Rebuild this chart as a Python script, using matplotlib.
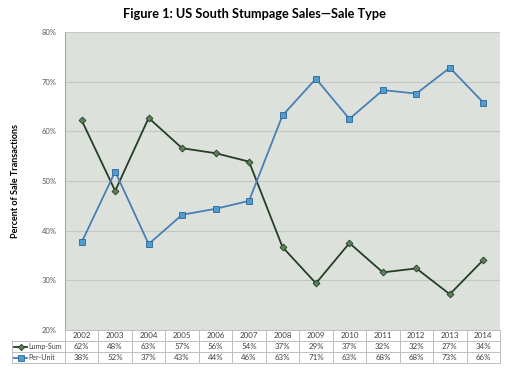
import matplotlib
matplotlib.use("Agg")
import matplotlib.pyplot as plt
from matplotlib.lines import Line2D
from matplotlib.transforms import blended_transform_factory

years = [2002, 2003, 2004, 2005, 2006, 2007, 2008, 2009, 2010, 2011, 2012, 2013, 2014]
lump_sum = [62.2, 48.0, 62.7, 56.6, 55.6, 53.9, 36.7, 29.4, 37.5, 31.6, 32.4, 27.2, 34.1]
per_unit = [37.7, 51.9, 37.3, 43.2, 44.4, 46.0, 63.2, 70.6, 62.5, 68.3, 67.6, 72.8, 65.8]
lump_labels = ["62%", "48%", "63%", "57%", "56%", "54%", "37%", "29%", "37%", "32%", "32%", "27%", "34%"]
per_labels = ["38%", "52%", "37%", "43%", "44%", "46%", "63%", "71%", "63%", "68%", "68%", "73%", "66%"]
yticks = [20, 30, 40, 50, 60, 70, 80]
series_names = ["Lump-Sum", "Per-Unit"]
title = "Figure 1: US South Stumpage Sales\u2014Sale Type"
ylabel = "Percent of Sale Transactions"

plt.rcParams["font.family"] = ["Lato", "DejaVu Sans"]

W, H = 509, 369
fig = plt.figure(figsize=(W / 100, H / 100), dpi=100)
fig.patch.set_facecolor("white")

def fx(px):
    return px / W

def fy(py):
    return 1 - py / H

left, right, top, bottom = 65, 500, 32, 330
ax = fig.add_axes([fx(left), fy(bottom), fx(right) - fx(left), fy(top) - fy(bottom)])
ax.set_facecolor("#dde1dc")
ax.set_xlim(years[0] - 0.5, years[-1] + 0.5)
ax.set_ylim(20, 80)
ax.set_yticks(yticks)
ax.set_yticklabels([f"{v}%" for v in yticks], fontsize=5.5, color="#595959")
ax.tick_params(axis="y", length=0, pad=6)
ax.set_xticks([])
ax.grid(axis="y", color="#c4c7c3", linewidth=0.8)
ax.set_axisbelow(True)
for s in ["top", "right", "bottom"]:
    ax.spines[s].set_visible(False)
ax.spines["left"].set_color("#a6a6a6")
ax.spines["left"].set_linewidth(0.8)

green_line = "#243f24"
green_face = "#5f7f5c"
blue_line = "#4a7fb5"
blue_face = "#4f9ccf"
blue_edge = "#2f6496"

ax.plot(years, lump_sum, color=green_line, lw=1.3, marker="D", ms=3.5,
        mfc=green_face, mec=green_line, mew=0.6, zorder=3)
ax.plot(years, per_unit, color=blue_line, lw=1.3, marker="s", ms=4.5,
        mfc=blue_face, mec=blue_edge, mew=0.6, zorder=3)

fig.text(0.5, fy(14), title, ha="center", va="center", fontsize=9.2,
         fontweight="bold")
fig.text(fx(16), fy(181), ylabel, rotation=90, ha="center", va="center",
         fontsize=6.5, fontweight="bold")

# Data table
tr = blended_transform_factory(ax.transData, fig.transFigure)
bc = "#bfbfbf"
rows_y = [330, 341, 352, 363]
x0 = years[0] - 0.5
x1 = years[-1] + 0.5
for i, ry in enumerate(rows_y):
    if i == 0:
        fig.add_artist(Line2D([x0, x1], [fy(ry), fy(ry)], transform=tr, color=bc, lw=0.7))
    else:
        fig.add_artist(Line2D([fx(12), fx(right)], [fy(ry), fy(ry)], transform=fig.transFigure, color=bc, lw=0.7))
for k in range(len(years) + 1):
    xv = years[0] - 0.5 + k
    fig.add_artist(Line2D([xv, xv], [fy(rows_y[0]), fy(rows_y[-1])], transform=tr, color=bc, lw=0.7))
fig.add_artist(Line2D([fx(12), fx(12)], [fy(rows_y[1]), fy(rows_y[-1])], transform=fig.transFigure, color=bc, lw=0.7))

tfs = 5.7
tc = "#404040"
for j, yr in enumerate(years):
    ymid = (rows_y[0] + rows_y[1]) / 2
    fig.text(yr, fy(ymid), str(yr), transform=tr, ha="center", va="center", fontsize=tfs, color=tc)
    ymid = (rows_y[1] + rows_y[2]) / 2
    fig.text(yr, fy(ymid), lump_labels[j], transform=tr, ha="center", va="center", fontsize=tfs, color=tc)
    ymid = (rows_y[2] + rows_y[3]) / 2
    fig.text(yr, fy(ymid), per_labels[j], transform=tr, ha="center", va="center", fontsize=tfs, color=tc)

for r, (name, lc, mk, mfc, mec, ms) in enumerate([
        (series_names[0], green_line, "D", green_face, green_line, 3.2),
        (series_names[1], blue_line, "s", blue_face, blue_edge, 4.2)]):
    ymid = fy((rows_y[r + 1] + rows_y[r + 2]) / 2)
    fig.add_artist(Line2D([fx(14), fx(27)], [ymid, ymid], transform=fig.transFigure, color=lc, lw=1.3))
    fig.add_artist(Line2D([fx(20.5)], [ymid], transform=fig.transFigure, marker=mk, ms=ms,
                          mfc=mfc, mec=mec, mew=0.6, color=lc))
    fig.text(fx(28), ymid, name, ha="left", va="center", fontsize=5.0, color=tc)

fig.savefig("out.png", dpi=100)
